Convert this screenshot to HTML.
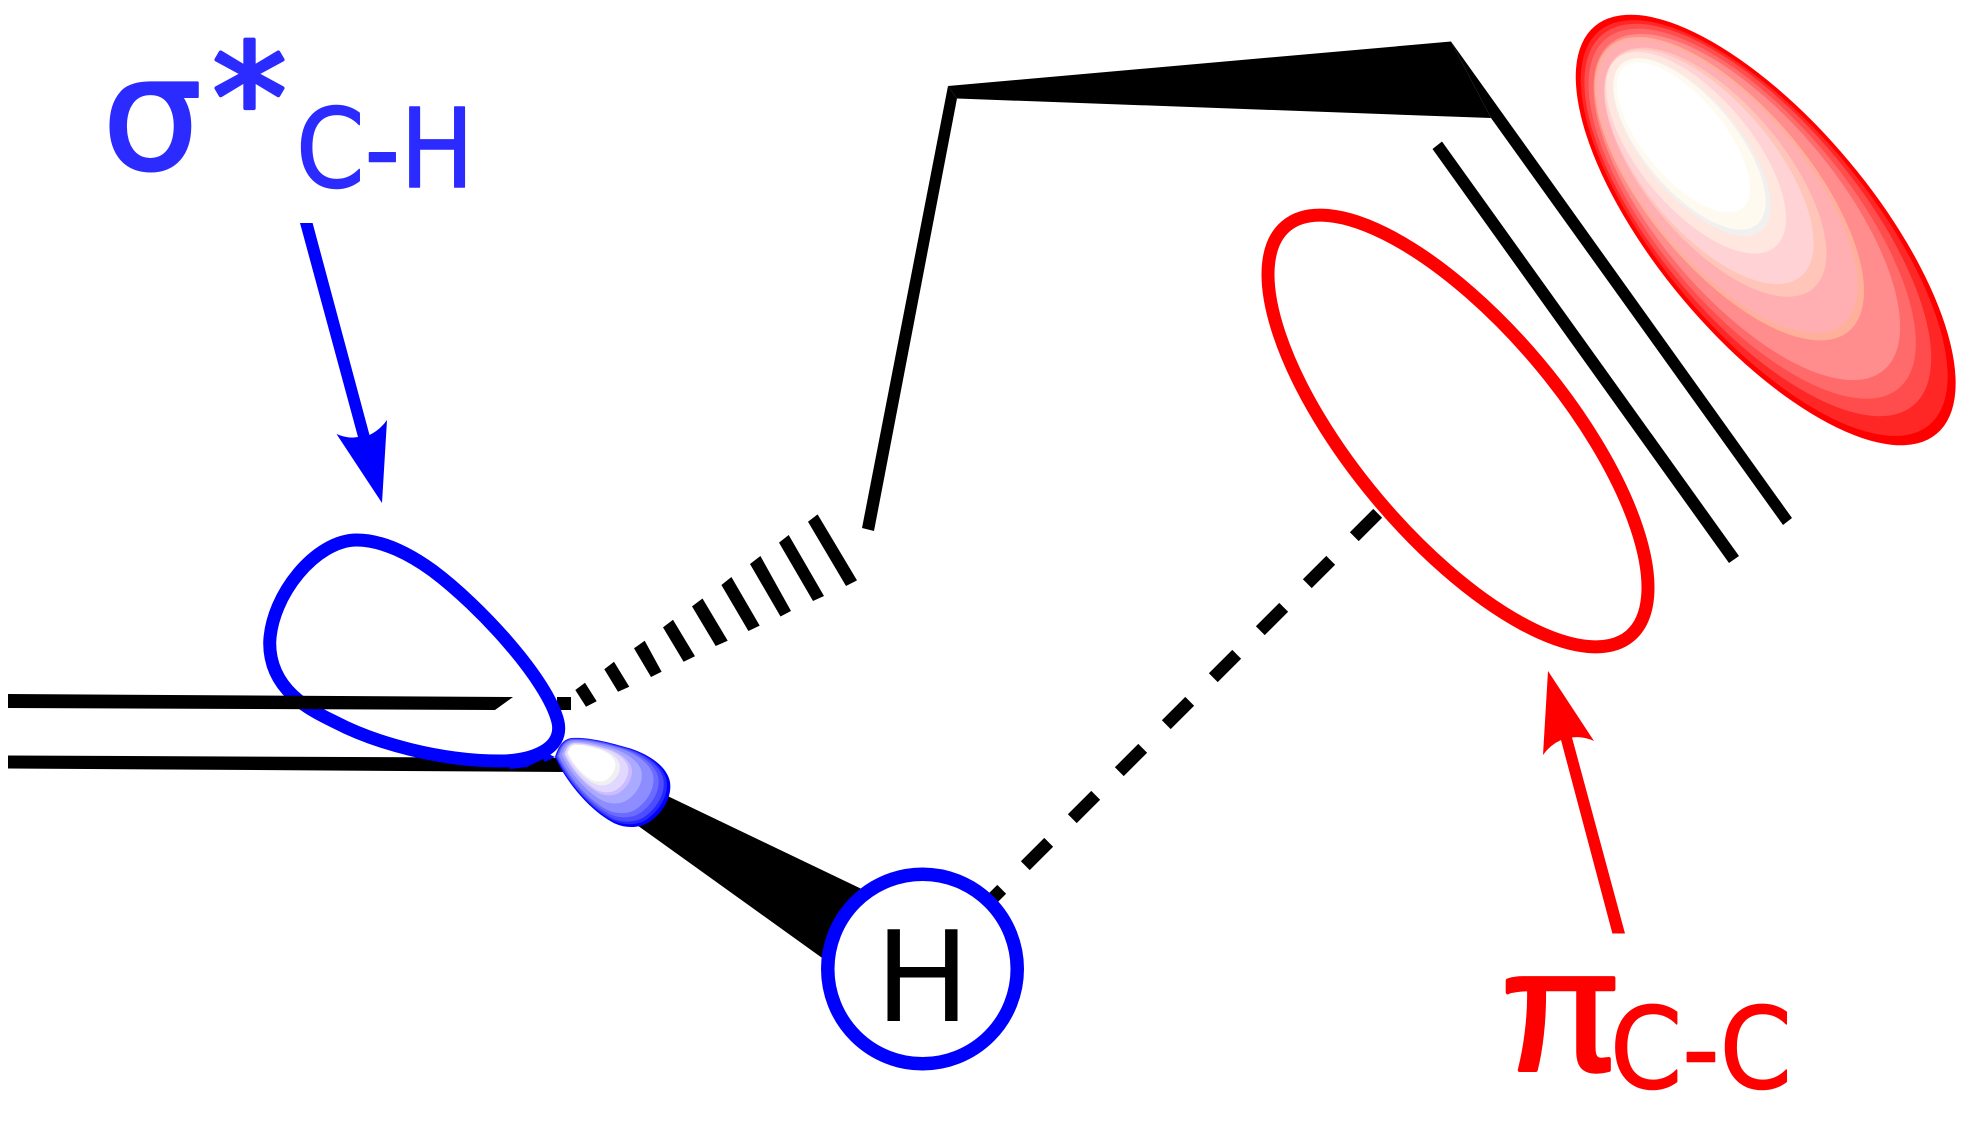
<!DOCTYPE html>
<html>
<head>
<meta charset="utf-8">
<style>
html,body{margin:0;padding:0;background:#fff;width:1972px;height:1132px;overflow:hidden}
svg{display:block}
text{font-family:"DejaVu Sans","Liberation Sans",sans-serif;stroke-linejoin:round}
</style>
</head>
<body>
<svg width="1972" height="1132" viewBox="0 0 1972 1132" xmlns="http://www.w3.org/2000/svg">
<rect width="1972" height="1132" fill="#fff"/>

<!-- filled red lobe -->
<ellipse cx="1765.7" cy="230" rx="266" ry="108" transform="rotate(50 1765.7 230)" fill="#ff0000"/>
<ellipse cx="1764.2" cy="228" rx="257" ry="104" transform="rotate(50 1764.2 228)" fill="#ff2626"/>
<ellipse cx="1757.8" cy="220" rx="242" ry="100" transform="rotate(50 1757.8 220)" fill="#ff4d4d"/>
<ellipse cx="1752.2" cy="213.7" rx="228" ry="95" transform="rotate(50 1752.2 213.7)" fill="#ff6b6b"/>
<ellipse cx="1746.8" cy="207" rx="213" ry="90" transform="rotate(50 1746.8 207)" fill="#ff8d8d"/>
<ellipse cx="1729.3" cy="188.7" rx="186" ry="81" transform="rotate(50 1729.3 188.7)" fill="#ffb09b"/>
<ellipse cx="1727.2" cy="186.3" rx="180" ry="78" transform="rotate(50 1727.2 186.3)" fill="#ffaeb2"/>
<ellipse cx="1715.3" cy="172.2" rx="152" ry="69" transform="rotate(50 1715.3 172.2)" fill="#ffc5b8"/>
<ellipse cx="1709" cy="166.8" rx="143" ry="65" transform="rotate(50 1709 166.8)" fill="#ffd3d6"/>
<ellipse cx="1696" cy="152.7" rx="123" ry="56" transform="rotate(50 1696 152.7)" fill="#ffe6de"/>
<ellipse cx="1691.7" cy="146.8" rx="109" ry="48" transform="rotate(50 1691.7 146.8)" fill="#f0f0f0"/>
<ellipse cx="1689.5" cy="144" rx="105" ry="46" transform="rotate(50 1689.5 144)" fill="#fffaf0"/>
<ellipse cx="1683.5" cy="137.5" rx="92" ry="40" transform="rotate(50 1683.5 137.5)" fill="#ffffff"/>

<!-- top skeleton -->
<polygon points="948,86 1451,41.5 1491,118 957,98.5" fill="#000"/>
<polygon points="948,86 957,98.5 874,531 862,528" fill="#000"/>
<polygon points="1451,41.5 1792,518 1783,525 1491,118" fill="#000"/>
<polygon points="1442,141.5 1739,556 1729,563 1432.5,149" fill="#000"/>

<!-- hashed wedge -->
<g fill="#000">
<polygon points="585,682.7 575.3,690 586,706.7 596.7,701.3"/>
<polygon points="614,661.7 604.3,669.3 618,691.7 629.3,686.7"/>
<polygon points="644.7,640.7 634,648.3 651,677 661.6,671.8"/>
<polygon points="673,619.8 663,627.4 683.6,661.7 695,656.3"/>
<polygon points="702.5,598.5 692,606.4 715.7,646 727.7,640.7"/>
<polygon points="731.4,577 721.4,585 748.4,631 759.7,625.6"/>
<polygon points="760.4,556 750,564 780.5,616.5 791,611"/>
<polygon points="788.7,535 779,542.6 813,601 824,596"/>
<polygon points="817.6,514.4 808,521.7 846,586 857,580.4"/>
<polygon points="557,697 571,697 571,710 557,710"/>
</g>

<!-- dashed H...pi line -->
<g stroke="#000" stroke-width="12.5" fill="none">
<line x1="1377.7" y1="513.3" x2="1354.3" y2="536.7"/>
<line x1="1330.7" y1="560.3" x2="1307.3" y2="583.7"/>
<line x1="1283.7" y1="607.3" x2="1260.3" y2="630.7"/>
<line x1="1236.7" y1="654.3" x2="1213.3" y2="677.7"/>
<line x1="1189.7" y1="701.3" x2="1166.3" y2="724.7"/>
<line x1="1142.7" y1="748.3" x2="1119.3" y2="771.7"/>
<line x1="1095.7" y1="795.3" x2="1072.3" y2="818.7"/>
<line x1="1048.7" y1="842.3" x2="1025.3" y2="865.7"/>
<line x1="1001.7" y1="889.3" x2="978.3" y2="912.7"/>
</g>

<!-- red open lobe -->
<ellipse cx="1458" cy="431" rx="267.5" ry="105.5" transform="rotate(50 1458 431)" fill="none" stroke="#ff0000" stroke-width="13"/>

<!-- C-H wedge -->
<polygon points="655,790 870,893 825,960 630,820" fill="#000"/>

<!-- lower bond -->
<polygon points="8,755.5 565,758 565,772 8,768.5" fill="#000"/>

<!-- small blue lobe -->
<defs>
<path id="tear" d="M555,757 C566,782 590,810 612,822 C622,828 640,830 652,820 C665,810 672,795 670,782 C667,765 645,752 625,747 C605,741 585,737 572,738 C562,739 558,748 555,757 Z"/>
</defs>
<use href="#tear" fill="#0000ff"/>
<use href="#tear" fill="#2626ff" transform="translate(577 750) scale(.964) translate(-577 -750)"/>
<use href="#tear" fill="#4d4dff" transform="translate(577 750) scale(.93) translate(-577 -750)"/>
<use href="#tear" fill="#6b6bff" transform="translate(577 750) scale(.875) translate(-577 -750)"/>
<use href="#tear" fill="#8d8dff" transform="translate(577 750) scale(.82) translate(-577 -750)"/>
<use href="#tear" fill="#aaaaff" transform="translate(577 750) scale(.695) translate(-577 -750)"/>
<use href="#tear" fill="#ccbbff" transform="translate(577 750) scale(.59) translate(-577 -750)"/>
<use href="#tear" fill="#e0d8ff" transform="translate(577 750) scale(.55) translate(-577 -750)"/>
<use href="#tear" fill="#f0f0f0" transform="translate(577 750) scale(.46) translate(-577 -750)"/>
<use href="#tear" fill="#ffffff" transform="translate(577 750) scale(.41) translate(-577 -750)"/>

<!-- blue open lobe -->
<path d="M356.7,540 C383,540 411,555 432.7,570.7 C480,606 548,680 558,722 C564,750 530,761 500,761 C440,761 375,743 335,722 C310,710 269.7,690 269.7,643 C271,595 316,540 356.7,540 Z" fill="none" stroke="#0000ff" stroke-width="13"/>
<polygon points="503,757 510,769 527,767 543,759 545,762 555,757 540,750" fill="#0000ff"/>

<!-- upper bond -->
<polygon points="8,694 513,697 495,710 8,708" fill="#000"/>

<!-- H atom -->
<circle cx="922.5" cy="969" r="94.75" fill="#fff" stroke="#0000ff" stroke-width="13.5"/>
<text x="922.5" y="1021" font-size="126" text-anchor="middle" fill="#000">H</text>

<!-- arrows -->
<path d="M300,223 L312.6,223 L369.5,435 Q380,430 387,420 L382,503 L336.5,434 Q348,439 358,437 Z" fill="#0000ff"/>
<path d="M1625,933.5 L1612.4,933.5 L1561,740 Q1550,745 1543,755 L1548,671 L1594,741 Q1583,736 1572,737.5 Z" fill="#ff0000"/>

<!-- labels -->
<g fill="#2b2bff" stroke="#2b2bff">
<text x="102" y="169" font-size="158" stroke-width="2.5">σ</text>
<text x="249.5" y="151" font-size="150" text-anchor="middle" stroke-width="4">*</text>
<text x="296" y="187" font-size="110" stroke-width="1.5" textLength="178" lengthAdjust="spacingAndGlyphs">C-H</text>
</g>
<g fill="#ff0000" stroke="#ff0000">
<text x="1501" y="1070" font-size="174" stroke-width="4" style="font-family:'Liberation Sans',sans-serif">π</text>
<text x="1610" y="1088" font-size="112" stroke-width="1.5" textLength="182" lengthAdjust="spacingAndGlyphs">C-C</text>
</g>
</svg>
</body>
</html>
